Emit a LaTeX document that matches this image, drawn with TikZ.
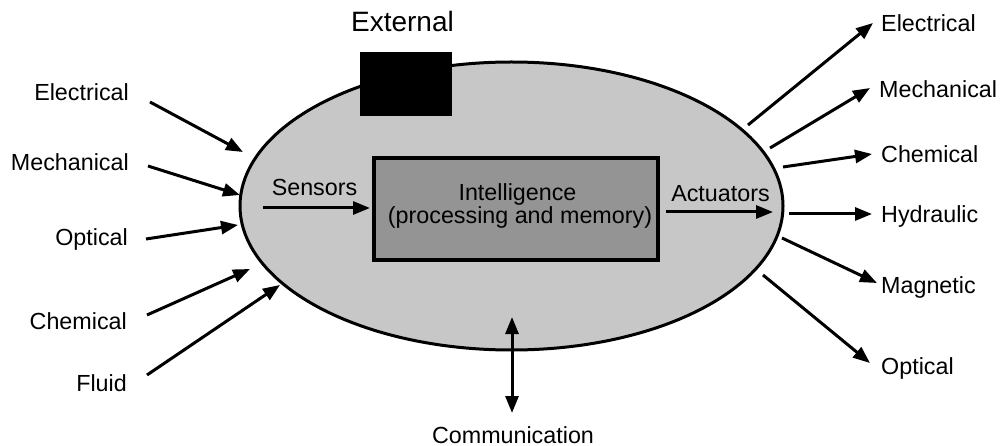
\documentclass[tikz,border=0pt]{standalone}
\usepackage{fontspec}
\setmainfont{Liberation Sans}
\usetikzlibrary{arrows.meta,shapes.geometric}
\begin{document}
\begin{tikzpicture}[x=1pt,y=-1pt,
  lbl/.style={font=\fontsize{23.3}{26}\selectfont, inner sep=0pt},
  arr/.style={line width=3pt, -{Triangle[length=17pt,width=13pt]}},
  darr/.style={line width=3pt, {Triangle[length=17pt,width=13pt]}-{Triangle[length=17pt,width=13pt]}}]
\useasboundingbox (0,0) rectangle (1001,446);
\fill[white] (0,0) rectangle (1001,446);
% system ellipse
\node (sys) [draw, ellipse, line width=3pt, fill=black!22, inner sep=0pt,
  minimum width=543pt, minimum height=288pt] at (511.5,206) {};
% external block
\node (extbox) [fill=black, inner sep=0pt, minimum width=92pt, minimum height=64pt] at (406,84) {};
\node (ext) [lbl, font=\fontsize{28}{30}\selectfont, anchor=base] at (402.5,32) {External};
% intelligence block
\node (intel) [draw, line width=3.5pt, fill=black!42, inner sep=0pt,
  minimum width=284pt, minimum height=102pt] at (516,209) {};
\node (intel1) [lbl, anchor=base] at (517.5,201) {Intelligence};
\node (intel2) [lbl, anchor=base] at (520,224) {(processing and memory)};
% sensors / actuators
\node (sens) [lbl, anchor=base] at (314.5,196) {Sensors};
\coordinate (s1) at (263,208); \coordinate (s2) at (370,208);
\draw[arr] (s1) -- (s2);
\node (act) [lbl, anchor=base] at (720.5,202) {Actuators};
\coordinate (a1) at (666,212); \coordinate (a2) at (773,212);
\draw[arr] (a1) -- (a2);
% inputs
\node (inE) [lbl, anchor=base east] at (129,101) {Electrical};
\node (inM) [lbl, anchor=base east] at (129,171) {Mechanical};
\node (inO) [lbl, anchor=base east] at (128,246) {Optical};
\node (inC) [lbl, anchor=base east] at (127,329) {Chemical};
\node (inF) [lbl, anchor=base east] at (127,391) {Fluid};
\coordinate (ie1) at (150,102); \coordinate (ie2) at (243,152);
\coordinate (im1) at (148,166); \coordinate (im2) at (240,195);
\coordinate (io1) at (146,239); \coordinate (io2) at (238,225);
\coordinate (ic1) at (147,315); \coordinate (ic2) at (250,269);
\coordinate (if1) at (147,375); \coordinate (if2) at (280,285);
\draw[arr] (ie1) -- (ie2);
\draw[arr] (im1) -- (im2);
\draw[arr] (io1) -- (io2);
\draw[arr] (ic1) -- (ic2);
\draw[arr] (if1) -- (if2);
% outputs
\node (outE) [lbl, anchor=base west] at (881,32) {Electrical};
\node (outM) [lbl, anchor=base west] at (879,98) {Mechanical};
\node (outC) [lbl, anchor=base west] at (881,163) {Chemical};
\node (outH) [lbl, anchor=base west] at (881,223) {Hydraulic};
\node (outG) [lbl, anchor=base west] at (881,294) {Magnetic};
\node (outO) [lbl, anchor=base west] at (881,374) {Optical};
\coordinate (oe1) at (748,125); \coordinate (oe2) at (873,23);
\coordinate (om1) at (770,148); \coordinate (om2) at (870,88);
\coordinate (oc1) at (783,167); \coordinate (oc2) at (872,154);
\coordinate (oh1) at (789,214); \coordinate (oh2) at (872,214);
\coordinate (og1) at (782,238); \coordinate (og2) at (877,283);
\coordinate (oo1) at (763,275); \coordinate (oo2) at (870,363);
\draw[arr] (oe1) -- (oe2);
\draw[arr] (om1) -- (om2);
\draw[arr] (oc1) -- (oc2);
\draw[arr] (oh1) -- (oh2);
\draw[arr] (og1) -- (og2);
\draw[arr] (oo1) -- (oo2);
% communication
\node (comm) [lbl, anchor=base] at (513,443) {Communication};
\coordinate (c1) at (512,317); \coordinate (c2) at (512,413);
\draw[darr] (c1) -- (c2);
\end{tikzpicture}
\end{document}
